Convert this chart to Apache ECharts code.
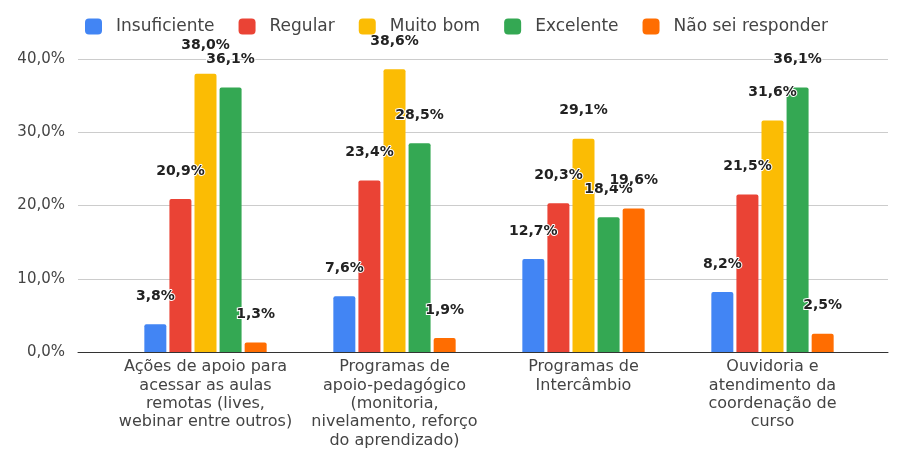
<!DOCTYPE html>
<html>
<head>
<meta charset="utf-8">
<script src="https://cdn.jsdelivr.net/npm/echarts@6/dist/echarts.min.js"></script>
<style>html,body{margin:0;padding:0;background:#fff;}#c{width:900px;height:458px;}</style>
</head>
<body>
<div id="c"></div>
<script>
var categories = [
  "Ações de apoio para\nacessar as aulas\nremotas (lives,\nwebinar entre outros)",
  "Programas de\napoio-pedagógico\n(monitoria,\nnivelamento, reforço\ndo aprendizado)",
  "Programas de\nIntercâmbio",
  "Ouvidoria e\natendimento da\ncoordenação de\ncurso"
];
var seriesNames = ["Insuficiente", "Regular", "Muito bom", "Excelente", "Não sei responder"];
var insuficiente = [3.8, 7.6, 12.7, 8.2];
var regular = [20.9, 23.4, 20.3, 21.5];
var muitoBom = [38.0, 38.6, 29.1, 31.6];
var excelente = [36.1, 28.5, 18.4, 36.1];
var naoSei = [1.3, 1.9, 19.6, 2.5];
var yTicks = [0, 10, 20, 30, 40];
var colors = ["#4285F4", "#EA4335", "#FBBC04", "#34A853", "#FF6D01"];

var FONT = '"DejaVu Sans", Verdana, sans-serif';
function pct(v) { return v.toFixed(1).replace('.', ',') + '%'; }

var allData = [insuficiente, regular, muitoBom, excelente, naoSei];
var series = allData.map(function (d, i) {
  return {
    name: seriesNames[i],
    type: 'bar',
    xAxisIndex: 1,
    yAxisIndex: 1,
    data: d,
    barWidth: 22,
    barGap: '14%',
    itemStyle: { color: colors[i], borderRadius: [2, 2, 0, 0] },
    labelLayout: { moveOverlap: 'shiftY' },
    label: {
      show: true,
      position: 'top',
      distance: 21,
      formatter: function (p) { return pct(p.value); },
      fontFamily: FONT,
      fontSize: 14,
      fontWeight: 'bold',
      color: '#222',
      textBorderColor: '#fff',
      textBorderWidth: 2
    }
  };
});

var chart = echarts.init(document.getElementById('c'), null, { renderer: 'canvas' });
chart.setOption({
  animation: false,
  color: colors,
  textStyle: { fontFamily: FONT },
  legend: {
    top: 13,
    left: 80,
    icon: 'roundRect',
    itemWidth: 17,
    itemHeight: 16,
    itemGap: 24,
    data: seriesNames,
    textStyle: { fontFamily: FONT, fontSize: 17, color: '#444', padding: [0, 0, 0, 9] }
  },
  grid: [
    { left: 78, right: 12, top: 59, bottom: 106 },
    { left: 111, width: 756, top: 59, bottom: 106 }
  ],
  xAxis: [
    {
      gridIndex: 0, type: 'value', min: 0, max: 1,
      axisLine: { show: true, lineStyle: { color: '#333', width: 1 } },
      axisTick: { show: false }, axisLabel: { show: false }, splitLine: { show: false }
    },
    {
      gridIndex: 1, type: 'category', data: categories,
      axisLine: { show: false }, axisTick: { show: false },
      axisLabel: { fontFamily: FONT, fontSize: 16, color: '#444', lineHeight: 18.3, margin: 6, interval: 0 }
    }
  ],
  yAxis: [
    {
      gridIndex: 0, type: 'value', min: yTicks[0], max: yTicks[yTicks.length - 1], interval: 10,
      axisLine: { show: false }, axisTick: { show: false },
      axisLabel: { fontFamily: FONT, fontSize: 15, color: '#444', margin: 13, formatter: function (v) { return pct(v); } },
      splitLine: { lineStyle: { color: '#ccc' } }
    },
    {
      gridIndex: 1, type: 'value', min: 0, max: 40, interval: 10, show: false,
      splitLine: { show: false }
    }
  ],
  series: series
});
</script>
</body>
</html>
